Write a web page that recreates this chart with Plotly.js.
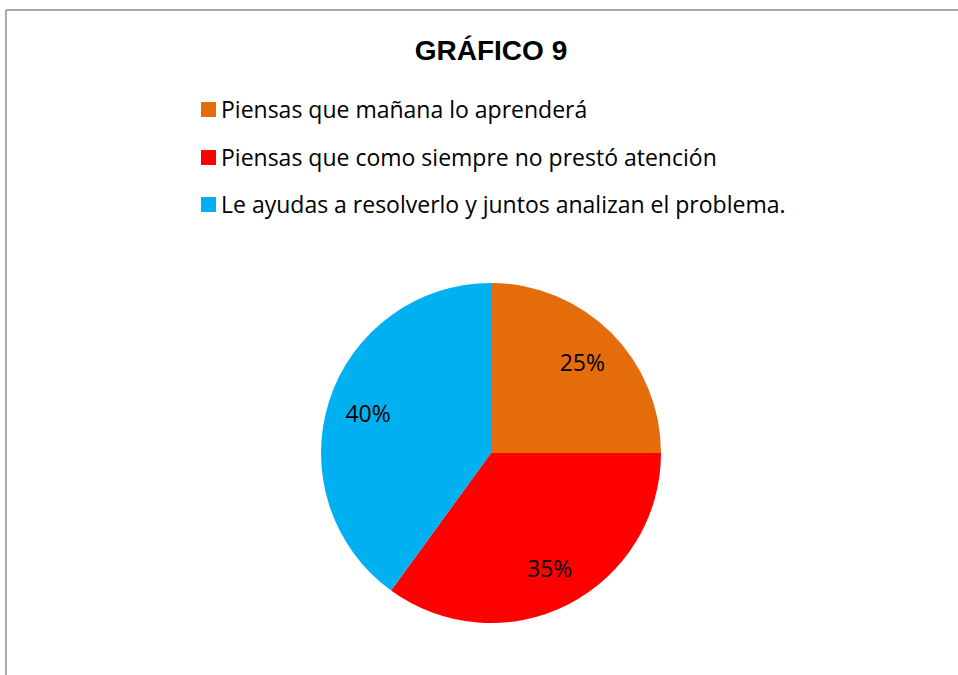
<!DOCTYPE html>
<html>
<head>
<meta charset="utf-8">
<script src="https://cdn.plot.ly/plotly-3.0.1.min.js"></script>
<style>
html,body{margin:0;padding:0;background:#fff;}
#chart{width:958px;height:675px;}
</style>
</head>
<body>
<div id="chart"></div>
<script>
const categories = [
  "Piensas que mañana lo aprenderá",
  "Piensas que como siempre no prestó atención",
  "Le ayudas a resolverlo y juntos analizan el problema."
];
const values = [25, 35, 40];
const colors = ["#E46C0A", "#FF0000", "#00B0F0"];
const titleText = "GRÁFICO 9";

const W = 958, H = 675;
const px = x => x / W;
const py = y => 1 - y / H;
const FONT = "'Open Sans', 'Noto Sans', sans-serif";
const pieDomain = { x: [px(321), px(661)], y: [py(623), py(283)] };

// filled pie (no text)
const pieTrace = {
  type: "pie",
  values: values,
  labels: categories,
  sort: false,
  direction: "clockwise",
  rotation: 0,
  marker: { colors: colors, line: { width: 0 } },
  textinfo: "none",
  domain: pieDomain,
  hoverinfo: "label+percent",
  showlegend: false
};
// transparent ring overlay that carries the percentage labels further out
const labelTrace = {
  type: "pie",
  values: values,
  labels: categories,
  sort: false,
  direction: "clockwise",
  rotation: 0,
  hole: 0.52,
  marker: { colors: ["rgba(0,0,0,0)", "rgba(0,0,0,0)", "rgba(0,0,0,0)"], line: { width: 0 } },
  textinfo: "percent",
  texttemplate: "%{percent:.0%}",
  textposition: "inside",
  insidetextorientation: "horizontal",
  textfont: { family: FONT, size: 23, color: "#000" },
  domain: pieDomain,
  hoverinfo: "skip",
  showlegend: false
};

const shapes = [
  { type: "line", xref: "paper", yref: "paper", x0: px(6), x1: 1.01, y0: py(10), y1: py(10), line: { color: "#8c8c8c", width: 1.5 } },
  { type: "line", xref: "paper", yref: "paper", x0: px(6), x1: px(6), y0: py(10), y1: -0.01, line: { color: "#8c8c8c", width: 1.5 } }
];
const annotations = [];
const rowY = [109.5, 157.5, 204.5];
categories.forEach((c, i) => {
  shapes.push({ type: "rect", xref: "paper", yref: "paper",
    x0: px(201), x1: px(216), y0: py(rowY[i] + 7.5), y1: py(rowY[i] - 7.5),
    fillcolor: colors[i], line: { width: 0 } });
  annotations.push({ xref: "paper", yref: "paper", x: px(219), y: py(rowY[i] - 1),
    xanchor: "left", yanchor: "middle", showarrow: false, text: c,
    font: { family: FONT, size: 23, color: "#000" } });
});

const layout = {
  width: W, height: H,
  margin: { l: 0, r: 0, t: 0, b: 0 },
  paper_bgcolor: "#fff",
  title: { text: "<b>" + titleText + "</b>", x: px(491), xanchor: "center", y: py(50), yref: "container", yanchor: "middle",
    font: { family: "'Liberation Sans', Arial, sans-serif", size: 28, color: "#000" } },
  shapes: shapes,
  annotations: annotations,
  showlegend: false
};

Plotly.newPlot("chart", [pieTrace, labelTrace], layout, { displayModeBar: false, responsive: false });
</script>
</body>
</html>
